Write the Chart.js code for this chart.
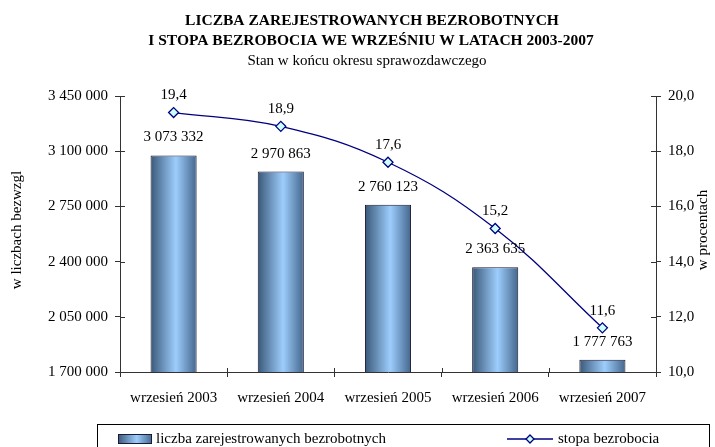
<!DOCTYPE html>
<html>
<head>
<meta charset="utf-8">
<script src="https://cdn.jsdelivr.net/npm/chart.js@4.4.0/dist/chart.umd.min.js"></script>
<style>
  html, body { margin: 0; padding: 0; background: #fff; }
  canvas { display: block; }
</style>
</head>
<body>
<canvas id="chart" width="715" height="447"></canvas>
<script>
// --- data ---
const categories = ['wrzesień 2003', 'wrzesień 2004', 'wrzesień 2005', 'wrzesień 2006', 'wrzesień 2007'];
const unemployedCount = [3073332, 2970863, 2760123, 2363635, 1777763];
const unemploymentRate = [19.4, 18.9, 17.6, 15.2, 11.6];
const countAxis = [1700000, 3450000, 350000]; // min, max, step
const rateAxis = [10, 20, 2];
const titleLines = ['LICZBA ZAREJESTROWANYCH BEZROBOTNYCH', 'I STOPA BEZROBOCIA WE WRZEŚNIU W LATACH 2003-2007'];
const subtitle = 'Stan w końcu okresu sprawozdawczego';
const leftTitle = 'w liczbach bezwzgl';
const rightTitle = 'w procentach';

const FONT = '"Liberation Serif", "Times New Roman", serif';
const SIZE = 15;
const barFrac = 0.43;
const axisColor = '#333';

const withSpaces = v => String(Math.round(v)).replace(/\B(?=(\d{3})+(?!\d))/g, ' ');
const withComma = (v, d) => Number(v).toFixed(d).replace('.', ',');

function barGradient(ctx, x0, x1) {
    const g = ctx.createLinearGradient(x0, 0, x1, 0);
    g.addColorStop(0, '#3a5878');
    g.addColorStop(0.55, '#9dcdfd');
    g.addColorStop(1, '#44668c');
    return g;
}

Chart.defaults.font.family = FONT;
Chart.defaults.color = '#000';

// value labels, titles, axis titles, legend, inner tick marks
const decor = {
    id: 'decor',
    afterDatasetsDraw(chart) {
        const ctx = chart.ctx;
        ctx.save();
        ctx.fillStyle = '#000';
        ctx.textAlign = 'center';
        ctx.textBaseline = 'middle';
        ctx.font = SIZE + 'px ' + FONT;
        // bar values
        chart.getDatasetMeta(1).data.forEach((bar, i) => {
            ctx.fillText(withSpaces(unemployedCount[i]), bar.x, bar.y - 18);
        });
        // line values
        chart.getDatasetMeta(0).data.forEach((pt, i) => {
            ctx.fillText(withComma(unemploymentRate[i], 1), pt.x, pt.y - 17);
        });
        ctx.restore();
    },
    afterDraw(chart) {
        const ctx = chart.ctx, a = chart.chartArea;
        ctx.save();
        ctx.fillStyle = '#000';
        ctx.textAlign = 'center';
        ctx.textBaseline = 'middle';
        ctx.font = 'bold 15.5px ' + FONT;
        ctx.fillText(titleLines[0], 372, 21);
        ctx.fillText(titleLines[1], 371, 41);
        ctx.font = SIZE + 'px ' + FONT;
        ctx.fillText(subtitle, 367, 61);

        const midY = (a.top + a.bottom) / 2 - 4;
        ctx.save();
        ctx.translate(17, midY);
        ctx.rotate(-Math.PI / 2);
        ctx.fillText(leftTitle, 0, 0);
        ctx.restore();
        ctx.save();
        ctx.translate(703, midY);
        ctx.rotate(-Math.PI / 2);
        ctx.fillText(rightTitle, 0, 0);
        ctx.restore();

        // inward halves of the cross tick marks
        ctx.strokeStyle = axisColor;
        ctx.lineWidth = 1;
        ctx.beginPath();
        const yl = chart.scales.y, yr = chart.scales.y1;
        yl.ticks.forEach(t => {
            const y = Math.round(yl.getPixelForValue(t.value)) + 0.5;
            ctx.moveTo(a.left, y); ctx.lineTo(a.left + 5, y);
        });
        yr.ticks.forEach(t => {
            const y = Math.round(yr.getPixelForValue(t.value)) + 0.5;
            ctx.moveTo(a.right - 5, y); ctx.lineTo(a.right, y);
        });
        const cw = (a.right - a.left) / categories.length;
        for (let i = 0; i <= categories.length; i++) {
            const x = Math.round(a.left + i * cw) + 0.5;
            ctx.moveTo(x, a.bottom); ctx.lineTo(x, a.bottom - 4);
        }
        ctx.stroke();

        // legend
        const ly = 439;
        ctx.strokeStyle = '#000';
        ctx.strokeRect(97.5, 424.5, 612, 30);
        ctx.fillStyle = barGradient(ctx, 118, 152);
        ctx.fillRect(118, 434, 34, 10);
        ctx.strokeStyle = '#1a1a33';
        ctx.strokeRect(118.5, 434.5, 33, 9);
        ctx.fillStyle = '#000';
        ctx.textAlign = 'left';
        ctx.fillText(chart.data.datasets[1].label, 156, ly);
        ctx.strokeStyle = '#000080';
        ctx.lineWidth = 1.3;
        ctx.beginPath();
        ctx.moveTo(507, ly); ctx.lineTo(553, ly);
        ctx.stroke();
        ctx.beginPath();
        ctx.moveTo(530, ly - 4); ctx.lineTo(534, ly); ctx.lineTo(530, ly + 4); ctx.lineTo(526, ly); ctx.closePath();
        ctx.fillStyle = '#ccffff';
        ctx.fill();
        ctx.stroke();
        ctx.fillStyle = '#000';
        ctx.fillText(chart.data.datasets[0].label, 558, ly);
        ctx.restore();
    }
};

new Chart(document.getElementById('chart'), {
    data: {
        labels: categories,
        datasets: [
            {
                type: 'line',
                label: 'stopa bezrobocia',
                data: unemploymentRate,
                yAxisID: 'y1',
                order: 0,
                borderColor: '#000080',
                borderWidth: 1.3,
                tension: 0.4,
                pointStyle: 'rectRot',
                pointRadius: 5,
                pointBackgroundColor: '#ccffff',
                pointBorderColor: '#000080',
                pointBorderWidth: 1.3,
            },
            {
                type: 'bar',
                label: 'liczba zarejestrowanych bezrobotnych',
                data: unemployedCount,
                yAxisID: 'y',
                order: 1,
                barPercentage: barFrac,
                categoryPercentage: 1,
                borderColor: '#1a1a33',
                borderWidth: 1,
                backgroundColor: (c) => {
                    const chart = c.chart, a = chart.chartArea;
                    if (!a || c.dataIndex == null) return '#7fa8d8';
                    const cx = chart.scales.x.getPixelForValue(c.dataIndex);
                    const hw = (a.right - a.left) / categories.length * barFrac / 2;
                    return barGradient(chart.ctx, cx - hw, cx + hw);
                },
            },
        ],
    },
    options: {
        responsive: false,
        animation: false,
        devicePixelRatio: 1,
        layout: { padding: { top: 96, left: 0, right: 0, bottom: 35 } },
        plugins: {
            legend: { display: false },
            tooltip: { enabled: false },
        },
        scales: {
            x: {
                offset: true,
                grid: { display: true, offset: true, drawOnChartArea: false, tickLength: 5, color: axisColor },
                border: { color: axisColor },
                ticks: { font: { size: SIZE }, padding: 12, maxRotation: 0, color: '#000' },
                afterFit: (s) => { s.height = 40; },
            },
            y: {
                position: 'left',
                min: countAxis[0],
                max: countAxis[1],
                grid: { drawOnChartArea: false, tickLength: 5, color: axisColor },
                border: { color: axisColor },
                ticks: { stepSize: countAxis[2], font: { size: SIZE }, padding: 7, color: '#000',
                    callback: (v) => withSpaces(v) },
                afterFit: (s) => { s.width = 120; },
            },
            y1: {
                position: 'right',
                min: rateAxis[0],
                max: rateAxis[1],
                grid: { drawOnChartArea: false, tickLength: 5, color: axisColor },
                border: { color: axisColor },
                ticks: { stepSize: rateAxis[2], font: { size: SIZE }, padding: 7, color: '#000',
                    callback: (v) => withComma(v, 1) },
                afterFit: (s) => { s.width = 59; },
            },
        },
    },
    plugins: [decor],
});
</script>
</body>
</html>
